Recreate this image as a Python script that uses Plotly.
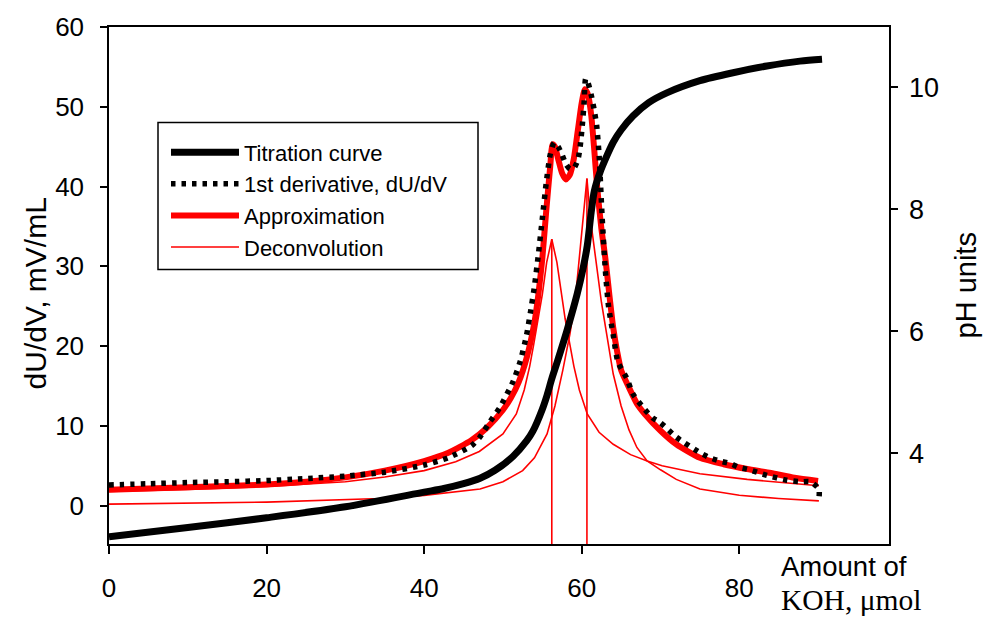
import plotly.graph_objects as go

# Titration curve: pH vs amount of KOH (right axis)
titr_x = [0, 10, 20, 30, 40, 42.5, 45, 47.1, 49, 51.3, 53, 53.8, 55, 55.6, 56.2, 56.9, 58.1,
          59.4, 60.2, 60.7, 61.2, 61.6, 62.3, 63.2, 64, 65, 66.5, 68.5, 70.8, 75, 79.2, 83.5,
          87.7, 90.5]
titr_ph = [2.63, 2.78, 2.94, 3.12, 3.36, 3.42, 3.5, 3.59, 3.72, 3.95, 4.2, 4.36, 4.72, 4.95,
           5.22, 5.5, 6.0, 6.6, 7.05, 7.4, 7.95, 8.3, 8.6, 8.88, 9.1, 9.3, 9.53, 9.75, 9.91,
           10.11, 10.24, 10.35, 10.43, 10.46]

# First derivative dU/dV (left axis)
deriv_x = [0, 5, 10, 15, 20, 25, 30, 35, 40, 43, 46, 47, 48.4, 49.6, 51.3, 52.2, 53, 53.5, 54,
           54.5, 55, 55.5, 56, 56.5, 57, 57.5, 58, 58.5, 59, 59.5, 59.8, 60.1, 60.3, 60.5, 60.8,
           61.2, 61.6, 61.9, 62.2, 62.6, 63, 63.4, 64, 64.6, 65.7, 66.5, 67.8, 69, 70, 72, 75,
           76.3, 77.5, 78.8, 80, 81.3, 83.5, 86, 87.7, 89, 90.1, 90.1]
deriv_y = [2.6, 2.75, 2.9, 3.0, 3.15, 3.4, 3.7, 4.2, 5.1, 6.0, 7.5, 8.5, 10.6, 12.3, 15.6, 18.1,
           21.4, 24.3, 27.5, 31.5, 36, 40.5, 44, 45.5, 45, 44, 42.8, 42.2, 42.3, 43.3, 45, 48,
           50.5, 53.5, 53, 51.5, 49.5, 47.6, 44, 36, 29.5, 25, 21.4, 18, 16, 14, 12.3, 11, 10.4,
           8.6, 6.65, 6.0, 5.6, 5.3, 4.8, 4.5, 3.8, 3.2, 3.0, 3.0, 2.1, 0.75]

# Two-peak approximation of the derivative
approx_x = [0, 10, 20, 25, 30, 35, 40, 43, 46, 48, 50, 51, 52, 53, 54, 54.5, 55, 55.5, 56, 56.3,
            56.6, 57, 57.5, 58, 58.5, 59, 59.5, 60, 60.4, 60.8, 61.2, 61.6, 62, 62.5, 63, 63.5,
            64, 64.5, 65, 66, 67, 68, 70, 72, 75, 78, 81, 84, 87, 90]
approx_y = [2.0, 2.3, 2.65, 3.0, 3.55, 4.4, 5.6, 6.6, 8.2, 9.8, 12.0, 13.5, 15.5, 18.5, 23, 26.5,
            31, 37, 42.5, 45.3, 45.0, 43.5, 41.7, 40.9, 41.5, 43.5, 47, 50.5, 52.2, 51.5, 49,
            44.5, 39.5, 34.7, 31, 26.5, 22.3, 19.3, 17, 14.8, 12.8, 11.5, 9.4, 7.7, 6.0, 5.2,
            4.6, 4.1, 3.5, 3.1]

# Deconvolution components
decon1_x = [0, 10, 20, 30, 35, 40, 44, 47, 50, 51.7, 52.7, 53.4, 53.9, 54.5, 55, 55.55, 56.2,
            56.85, 57.4, 57.9, 58.5, 59, 59.7, 60.7, 62.2, 64, 66.2, 68.3, 70.2, 75, 81, 90.1]
decon1_y = [1.8, 2.05, 2.4, 3.0, 3.6, 4.4, 5.5, 6.8, 9.0, 11.5, 14.5, 17.5, 20.2, 23.4, 26.5,
            30.5, 33.4, 30.5, 26.5, 23.4, 20.2, 17.5, 14.5, 11.5, 9.2, 7.7, 6.4, 5.6, 5.0, 4.0,
            3.3, 2.5]
decon2_x = [0, 20, 34.4, 40, 47.1, 50, 52.5, 54, 55.6, 56.6, 57.6, 58.5, 59.2, 59.66, 60.2,
            60.66, 61.1, 61.5, 62, 62.5, 63, 64, 65, 66, 67, 68.3, 70, 72, 75, 80, 85, 90.1]
decon2_y = [0.2, 0.45, 0.9, 1.3, 2.1, 3.0, 4.4, 6.0, 9.0, 12.5, 17, 21.5, 26, 30.5, 36, 41.0,
            36, 33, 29, 25.5, 22.5, 16.5, 12.5, 9.5, 7.3, 5.6, 4.5, 3.3, 2.1, 1.3, 0.9, 0.6]
peak_x = [56.2, 60.66]
peak_y = [33.4, 41.0]

Y_RANGE = [-4.8, 60]
Y2_RANGE = [2.51, 10.99]
X_RANGE = [0, 99]
PH_TICKS = [4, 6, 8, 10]

# page geometry in pixels; the x-domain stops short of the right margin so the
# pH tick labels can sit on their own free axis
W, H = 986, 620
L, R, T, B = 109, 77, 24, 76
PW, PH = W - L - R, H - T - B
X_RIGHT = 889          # right frame of the data area
LABEL_AXIS = 908       # where the pH tick-label axis is anchored


def px_x(p):
    return (p - L) / PW


def px_y(p):
    return 1 - (p - T) / PH


FONT = "Liberation Sans, Arial, sans-serif"
RED = "#ff0000"

fig = go.Figure()

fig.add_trace(go.Scatter(x=decon1_x, y=decon1_y, mode="lines", name="Deconvolution",
                         legendgroup="dec", legendrank=4,
                         line=dict(color=RED, width=1.6)))
fig.add_trace(go.Scatter(x=decon2_x, y=decon2_y, mode="lines", showlegend=False,
                         legendgroup="dec", line=dict(color=RED, width=1.6)))
# drop lines from each component peak to the axis
drop_x, drop_y = [], []
for px_, py_ in zip(peak_x, peak_y):
    drop_x += [px_, px_, None]
    drop_y += [py_, Y_RANGE[0], None]
fig.add_trace(go.Scatter(x=drop_x, y=drop_y, mode="lines", showlegend=False,
                         legendgroup="dec", line=dict(color=RED, width=1.6)))

fig.add_trace(go.Scatter(x=approx_x, y=approx_y, mode="lines", name="Approximation",
                         legendrank=3,
                         line=dict(color=RED, width=6, shape="spline", smoothing=0.6)))
fig.add_trace(go.Scatter(x=deriv_x, y=deriv_y, mode="lines", name="1st derivative, dU/dV",
                         legendrank=2,
                         line=dict(color="black", width=5.5, dash="4.5px,6px",
                                   shape="spline", smoothing=0.6)))
fig.add_trace(go.Scatter(x=titr_x, y=titr_ph, mode="lines", name="Titration curve",
                         yaxis="y2", legendrank=1,
                         line=dict(color="black", width=7, shape="spline", smoothing=0.8)))

axis_common = dict(showline=True, linecolor="black", linewidth=1.5, ticks="outside",
                   tickcolor="black", tickwidth=1.5, showgrid=False, zeroline=False)

fig.update_layout(
    width=W, height=H,
    margin=dict(l=L, r=R, t=T, b=B),
    paper_bgcolor="white", plot_bgcolor="white",
    font=dict(family=FONT, color="black"),
    xaxis=dict(range=X_RANGE, domain=[0, px_x(X_RIGHT)], tickvals=[0, 20, 40, 60, 80],
               ticklen=8, tickfont=dict(size=26), ticklabelstandoff=12, mirror=True,
               **axis_common),
    yaxis=dict(range=Y_RANGE, tickvals=[0, 10, 20, 30, 40, 50, 60], ticklen=7,
               tickfont=dict(size=26), ticklabelstandoff=11, **axis_common),
    # pH axis: frame line and tick marks
    yaxis2=dict(range=Y2_RANGE, tickvals=PH_TICKS, ticklen=7, overlaying="y",
                side="right", anchor="x", showticklabels=False, **axis_common),
    # pH axis: tick labels
    yaxis3=dict(range=Y2_RANGE, tickvals=PH_TICKS, overlaying="y", side="right",
                anchor="free", position=px_x(LABEL_AXIS), showline=False, ticks="",
                showgrid=False, zeroline=False, tickfont=dict(size=27)),
    legend=dict(x=px_x(166), y=px_y(129), xanchor="left", yanchor="top",
                bgcolor="rgba(0,0,0,0)", borderwidth=0,
                font=dict(size=22, family=FONT), itemwidth=68, traceorder="normal"),
    showlegend=True,
)

# the label axis needs a trace to be drawn
fig.add_trace(go.Scatter(x=[None], y=[None], yaxis="y3", showlegend=False,
                         hoverinfo="skip"))

# legend frame
fig.add_shape(type="rect", xref="paper", yref="paper",
              x0=px_x(158), x1=px_x(478), y0=px_y(268), y1=px_y(120),
              line=dict(color="black", width=1.5), fillcolor="white", layer="above")

# Axis titles and the x-axis caption
fig.add_annotation(text="dU/dV, mV/mL", xref="paper", yref="paper",
                   x=px_x(35), y=px_y(292), textangle=-90,
                   showarrow=False, font=dict(size=30, family=FONT),
                   xanchor="center", yanchor="middle")
fig.add_annotation(text="pH units", xref="paper", yref="paper",
                   x=px_x(965), y=px_y(284), textangle=-90,
                   showarrow=False, font=dict(size=29, family=FONT),
                   xanchor="center", yanchor="middle")
fig.add_annotation(text="Amount of", xref="paper", yref="paper",
                   x=px_x(779), y=px_y(567), showarrow=False,
                   font=dict(size=27.5, family=FONT), xanchor="left", yanchor="middle")
fig.add_annotation(text="KOH, \u03bcmol", xref="paper", yref="paper",
                   x=px_x(779), y=px_y(600), showarrow=False,
                   font=dict(size=29.5, family="Liberation Serif, Times New Roman, serif"),
                   xanchor="left", yanchor="middle")

fig.write_html("out.html")
